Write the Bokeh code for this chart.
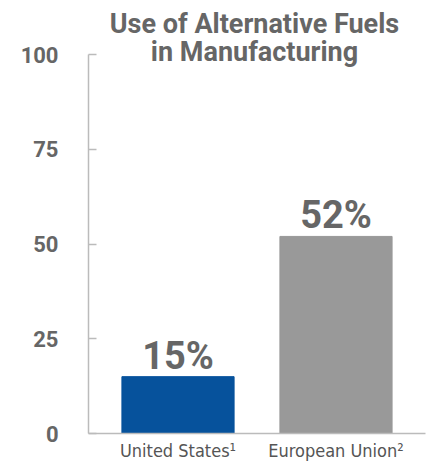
from bokeh.plotting import figure
from bokeh.models import ColumnDataSource, LabelSet, Label, FactorRange, FixedTicker
from bokeh.core.properties import value
from bokeh.embed import file_html
from bokeh.resources import INLINE

categories = ["United States¹", "European Union²"]
values = [15, 52]
labels = ["15%", "52%"]
colors = ["#06529c", "#999999"]
y_ticks = [0, 25, 50, 75, 100]
title_lines = ["Use of Alternative Fuels", "in Manufacturing"]

src = ColumnDataSource(dict(cat=categories, val=values, lab=labels, col=colors))

p = figure(width=440, height=463, output_backend="svg", toolbar_location=None,
           x_range=FactorRange(*categories, range_padding=0.0665, range_padding_units="absolute"),
           y_range=(0, 114.25), min_border_left=88, min_border_right=15,
           min_border_top=0, min_border_bottom=30)
p.vbar(x="cat", top="val", width=0.71, color="col", source=src)

p.add_layout(LabelSet(x="cat", y="val", text="lab", source=src, text_align="center",
                      text_baseline="alphabetic", y_offset=8, text_font=value("Roboto"),
                      text_font_style="bold", text_font_size="38px", text_color="#666666"))

for i, t in enumerate(title_lines):
    p.add_layout(Label(x=166, y=410 - 28 * i, x_units="screen", y_units="screen",
                       text=t, text_align="center", text_baseline="middle",
                       text_font="Roboto", text_font_style="bold", text_font_size="27px",
                       text_color="#666666"))

p.xgrid.grid_line_color = None
p.ygrid.grid_line_color = None
p.outline_line_color = None

p.yaxis.ticker = FixedTicker(ticks=y_ticks)
p.yaxis.bounds = (0, 100)
p.yaxis.major_tick_in = 8
p.yaxis.major_tick_out = 0
p.yaxis.minor_tick_line_color = None
p.yaxis.axis_line_color = "#bbbbbb"
p.yaxis.major_tick_line_color = "#bbbbbb"
p.yaxis.axis_line_width = 1.5
p.yaxis.major_tick_line_width = 1.5
p.yaxis.major_label_standoff = 30
p.yaxis.major_label_text_font = "Roboto"
p.yaxis.major_label_text_font_style = "bold"
p.yaxis.major_label_text_font_size = "22px"
p.yaxis.major_label_text_color = "#666666"

p.xaxis.axis_line_color = "#bbbbbb"
p.xaxis.axis_line_width = 1.5
p.xaxis.major_tick_line_color = None
p.xaxis.minor_tick_line_color = None
p.xaxis.major_label_standoff = 0
p.xaxis.major_label_text_font = "DejaVu Sans Condensed"
p.xaxis.major_label_text_font_size = "18px"
p.xaxis.major_label_text_color = "#555555"

open("out.html", "w").write(file_html(p, INLINE))
